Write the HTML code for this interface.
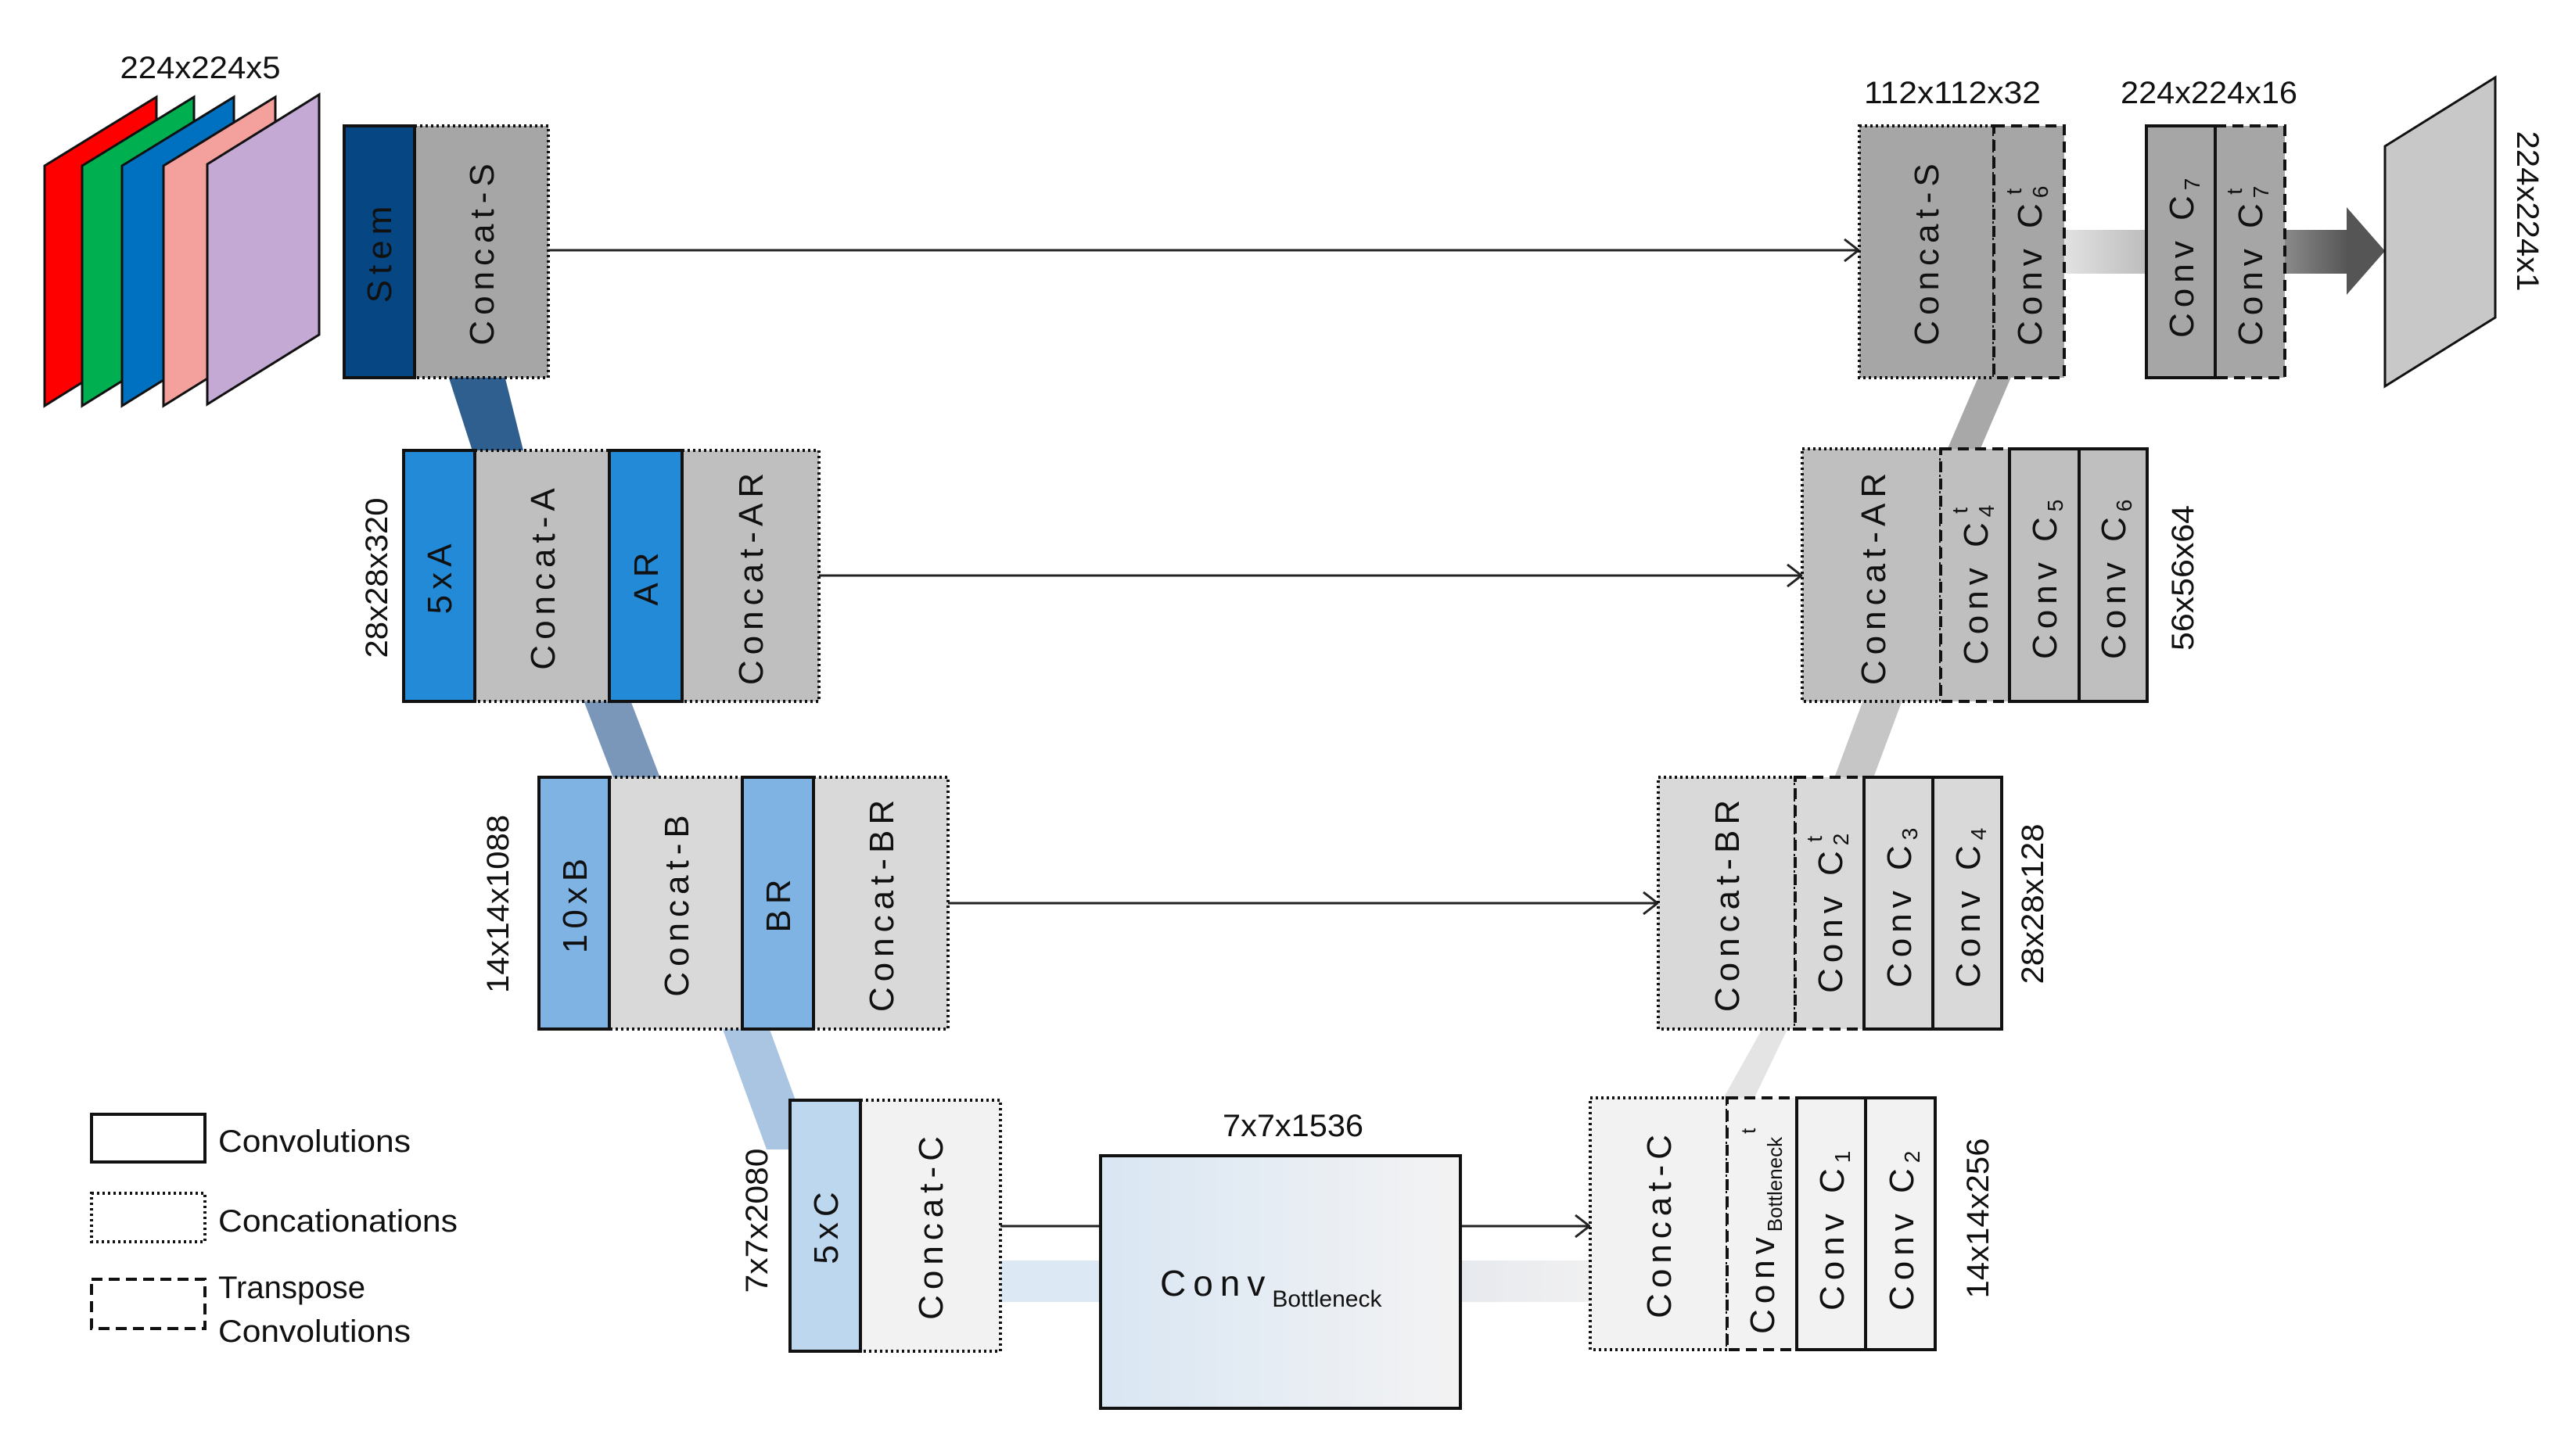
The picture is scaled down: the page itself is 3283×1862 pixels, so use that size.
<!DOCTYPE html>
<html><head><meta charset="utf-8"><style>
html,body{margin:0;padding:0;background:#fff;}
svg{display:block;}
text{font-family:"Liberation Sans",sans-serif;fill:#111;}
.bl{font-size:44px;letter-spacing:7px;}
.dim{font-size:40px;}
</style></head><body>
<svg width="3283" height="1862" viewBox="0 0 3283 1862" xmlns="http://www.w3.org/2000/svg">
<defs>
<linearGradient id="gb" x1="0" x2="1" y1="0" y2="0"><stop offset="0" stop-color="#d9e6f3"/><stop offset="1" stop-color="#f3f3f3"/></linearGradient>
<linearGradient id="gr" x1="0" x2="1"><stop offset="0" stop-color="#e6e9ee"/><stop offset="1" stop-color="#f0f0f0"/></linearGradient>
<linearGradient id="g7" x1="0" x2="1"><stop offset="0" stop-color="#e2e2e2"/><stop offset="1" stop-color="#bdbdbd"/></linearGradient>
<linearGradient id="ga" x1="0" x2="1"><stop offset="0" stop-color="#8a8a8a"/><stop offset="1" stop-color="#555"/></linearGradient>
</defs>

<!-- input slabs -->
<g stroke="#111" stroke-width="3">
<polygon points="57,212 200,124 200,430 57,519" fill="#ff0000"/>
<polygon points="105,212 248,124 248,430 105,519" fill="#00b050"/>
<polygon points="156,212 299,124 299,430 156,519" fill="#0070c0"/>
<polygon points="209,212 352,124 352,430 209,519" fill="#f4a09c"/>
<polygon points="265,210 408,121 408,428 265,517" fill="#c3a9d3"/>
</g>
<text class="dim" x="256" y="100" text-anchor="middle" textLength="205" lengthAdjust="spacingAndGlyphs">224x224x5</text>

<!-- bands -->
<polygon points="560,440 635,440 670,580 605,580" fill="#2f5f8f"/>
<polygon points="740,880 800,880 846,1000 786,1000" fill="#7a96b9"/>
<polygon points="918,1300 978,1300 1040,1470 980,1470" fill="#a9c5e2"/>
<rect x="1279" y="1612" width="128" height="53" fill="#dce8f4"/>
<rect x="1867" y="1612" width="166" height="53" fill="url(#gr)"/>
<polygon points="2200,1410 2240,1410 2288,1310 2256,1310" fill="#e4e4e4"/>
<polygon points="2384,890 2434,890 2393,1000 2343,1000" fill="#c6c6c6"/>
<polygon points="2530,480 2572,480 2530,578 2488,578" fill="#a8a8a8"/>
<rect x="2639" y="294" width="105" height="56" fill="url(#g7)"/>
<rect x="2921" y="294" width="82" height="56" fill="url(#ga)"/>
<polygon points="3000,265 3049,321 3000,377" fill="#555"/>

<!-- output slab -->
<polygon points="3049,187 3190,99 3190,406 3049,494" fill="#c8c8c8" stroke="#111" stroke-width="3"/>
<text class="dim" transform="translate(3218,270) rotate(90)" text-anchor="middle" textLength="205" lengthAdjust="spacingAndGlyphs">224x224x1</text>

<!-- connectors -->
<g stroke="#222" stroke-width="3" fill="none">
<line x1="701" y1="320" x2="2375" y2="320"/><polyline points="2358,306 2376,320 2358,334"/>
<line x1="1047" y1="736" x2="2302" y2="736"/><polyline points="2285,722 2303,736 2285,750"/>
<line x1="1212" y1="1155" x2="2118" y2="1155"/><polyline points="2101,1141 2119,1155 2101,1169"/>
<line x1="1279" y1="1568" x2="1407" y2="1568"/>
<line x1="1867" y1="1568" x2="2031" y2="1568"/><polyline points="2014,1554 2032,1568 2014,1582"/>
</g>

<!-- dotted boxes -->
<g stroke="#111" stroke-width="4" stroke-dasharray="3 4">
<rect x="530" y="161" width="171" height="322" fill="#a6a6a6"/>
<rect x="607" y="576" width="172" height="321" fill="#bfbfbf"/>
<rect x="872" y="576" width="175" height="321" fill="#bfbfbf"/>
<rect x="779" y="994" width="170" height="322" fill="#d9d9d9"/>
<rect x="1040" y="994" width="172" height="322" fill="#d9d9d9"/>
<rect x="1100" y="1407" width="179" height="321" fill="#f2f2f2"/>
<rect x="2033" y="1404" width="175" height="322" fill="#f2f2f2"/>
<rect x="2120" y="994" width="175" height="322" fill="#d9d9d9"/>
<rect x="2304" y="574" width="177" height="323" fill="#bfbfbf"/>
<rect x="2377" y="161" width="172" height="322" fill="#a6a6a6"/>
</g>
<!-- dashed boxes -->
<g stroke="#111" stroke-width="4" stroke-dasharray="14 8">
<rect x="2208" y="1404" width="89" height="322" fill="#f2f2f2"/>
<rect x="2295" y="994" width="88" height="322" fill="#d9d9d9"/>
<rect x="2481" y="574" width="88" height="323" fill="#bfbfbf"/>
<rect x="2549" y="161" width="90" height="322" fill="#a6a6a6"/>
<rect x="2832" y="161" width="89" height="322" fill="#a6a6a6"/>
</g>
<!-- solid boxes -->
<g stroke="#111" stroke-width="4">
<rect x="440" y="161" width="90" height="322" fill="#054683"/>
<rect x="516" y="576" width="91" height="321" fill="#238ad8"/>
<rect x="779" y="576" width="93" height="321" fill="#238ad8"/>
<rect x="689" y="994" width="90" height="322" fill="#7fb3e4"/>
<rect x="949" y="994" width="91" height="322" fill="#7fb3e4"/>
<rect x="1010" y="1407" width="90" height="321" fill="#bdd7ee"/>
<rect x="1407" y="1478" width="460" height="323" fill="url(#gb)"/>
<rect x="2297" y="1404" width="88" height="322" fill="#f2f2f2"/>
<rect x="2385" y="1404" width="89" height="322" fill="#f2f2f2"/>
<rect x="2383" y="994" width="88" height="322" fill="#d9d9d9"/>
<rect x="2471" y="994" width="88" height="322" fill="#d9d9d9"/>
<rect x="2569" y="574" width="89" height="323" fill="#bfbfbf"/>
<rect x="2658" y="574" width="87" height="323" fill="#bfbfbf"/>
<rect x="2744" y="161" width="88" height="322" fill="#a6a6a6"/>
</g>

<!-- box labels (rotated) -->
<g class="bl" text-anchor="middle">
<text transform="translate(500,322) rotate(-90)">Stem</text>
<text transform="translate(631,322) rotate(-90)">Concat-S</text>
<text transform="translate(577,737) rotate(-90)">5xA</text>
<text transform="translate(709,737) rotate(-90)">Concat-A</text>
<text transform="translate(841,737) rotate(-90)">AR</text>
<text transform="translate(975,737) rotate(-90)">Concat-AR</text>
<text transform="translate(750,1155) rotate(-90)">10xB</text>
<text transform="translate(880,1155) rotate(-90)">Concat-B</text>
<text transform="translate(1010,1155) rotate(-90)">BR</text>
<text transform="translate(1142,1155) rotate(-90)">Concat-BR</text>
<text transform="translate(1071,1567) rotate(-90)">5xC</text>
<text transform="translate(1205,1567) rotate(-90)">Concat-C</text>

<text transform="translate(2478,322) rotate(-90)">Concat-S</text>
<text transform="translate(2410,737) rotate(-90)">Concat-AR</text>
<text transform="translate(2223,1155) rotate(-90)">Concat-BR</text>
<text transform="translate(2136,1565) rotate(-90)">Concat-C</text>
</g>
<g class="bl">
<text transform="translate(2610,442) rotate(-90)">Conv C<tspan font-size="28" dy="8">6</tspan><tspan font-size="28" dx="-18" dy="-34">t</tspan></text>
<text transform="translate(2804,432) rotate(-90)">Conv C<tspan font-size="28" dy="8">7</tspan></text>
<text transform="translate(2892,442) rotate(-90)">Conv C<tspan font-size="28" dy="8">7</tspan><tspan font-size="28" dx="-18" dy="-34">t</tspan></text>
<text transform="translate(2541,850) rotate(-90)">Conv C<tspan font-size="28" dy="8">4</tspan><tspan font-size="28" dx="-18" dy="-34">t</tspan></text>
<text transform="translate(2629,843) rotate(-90)">Conv C<tspan font-size="28" dy="8">5</tspan></text>
<text transform="translate(2717,843) rotate(-90)">Conv C<tspan font-size="28" dy="8">6</tspan></text>
<text transform="translate(2355,1270) rotate(-90)">Conv C<tspan font-size="28" dy="8">2</tspan><tspan font-size="28" dx="-18" dy="-34">t</tspan></text>
<text transform="translate(2443,1263) rotate(-90)">Conv C<tspan font-size="28" dy="8">3</tspan></text>
<text transform="translate(2531,1263) rotate(-90)">Conv C<tspan font-size="28" dy="8">4</tspan></text>
<text transform="translate(2357,1676) rotate(-90)">Conv C<tspan font-size="28" dy="8">1</tspan></text>
<text transform="translate(2446,1676) rotate(-90)">Conv C<tspan font-size="28" dy="8">2</tspan></text>
<text transform="translate(2268,1706) rotate(-90)">Conv<tspan font-size="26" letter-spacing="0" dy="10">Bottleneck</tspan><tspan font-size="26" letter-spacing="0" dx="4" dy="-34">t</tspan></text>
</g>
<text x="1483" y="1657" font-size="46" letter-spacing="9">Conv<tspan font-size="30" letter-spacing="0" dy="14">Bottleneck</tspan></text>

<!-- dimension labels -->
<g class="dim" text-anchor="middle">
<text transform="translate(495,739) rotate(-90)" textLength="205" lengthAdjust="spacingAndGlyphs">28x28x320</text>
<text transform="translate(650,1156) rotate(-90)" textLength="228" lengthAdjust="spacingAndGlyphs">14x14x1088</text>
<text transform="translate(981,1561) rotate(-90)" textLength="185" lengthAdjust="spacingAndGlyphs">7x7x2080</text>
<text x="1653" y="1453" textLength="180" lengthAdjust="spacingAndGlyphs">7x7x1536</text>
<text x="2496" y="132" textLength="226" lengthAdjust="spacingAndGlyphs">112x112x32</text>
<text x="2824" y="132" textLength="226" lengthAdjust="spacingAndGlyphs">224x224x16</text>
<text transform="translate(2804,739) rotate(-90)" textLength="186" lengthAdjust="spacingAndGlyphs">56x56x64</text>
<text transform="translate(2612,1156) rotate(-90)" textLength="205" lengthAdjust="spacingAndGlyphs">28x28x128</text>
<text transform="translate(2542,1558) rotate(-90)" textLength="205" lengthAdjust="spacingAndGlyphs">14x14x256</text>
</g>

<!-- legend -->
<rect x="117" y="1425" width="145" height="61" fill="#fff" stroke="#111" stroke-width="4"/>
<rect x="117" y="1526" width="145" height="62" fill="#fff" stroke="#111" stroke-width="4" stroke-dasharray="3 4"/>
<rect x="117" y="1636" width="145" height="63" fill="#fff" stroke="#111" stroke-width="4" stroke-dasharray="14 8"/>
<g class="dim">
<text x="279" y="1473" textLength="246" lengthAdjust="spacingAndGlyphs">Convolutions</text>
<text x="279" y="1575" textLength="306" lengthAdjust="spacingAndGlyphs">Concationations</text>
<text x="279" y="1660" textLength="188" lengthAdjust="spacingAndGlyphs">Transpose</text>
<text x="279" y="1716" textLength="246" lengthAdjust="spacingAndGlyphs">Convolutions</text>
</g>
</svg>
</body></html>
